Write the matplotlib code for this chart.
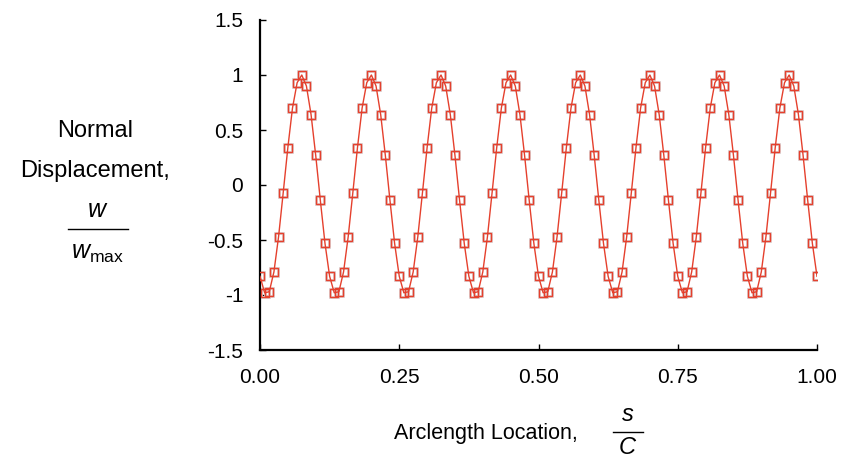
import matplotlib
matplotlib.use("Agg")
import matplotlib.pyplot as plt
import numpy as np
from matplotlib.lines import Line2D

plt.rcParams["font.family"] = ["Liberation Sans", "DejaVu Sans"]
plt.rcParams["mathtext.fontset"] = "custom"
plt.rcParams["mathtext.rm"] = "Liberation Sans"
plt.rcParams["mathtext.it"] = "Liberation Sans:italic"

# ---------------------------------------------------------------------------
# Data: 121 evenly spaced arclength samples
# ---------------------------------------------------------------------------
arclength = np.linspace(0.0, 1.0, 121)

displacement = [
    -0.83, -0.98, -0.97, -0.79, -0.47, -0.07, 0.34, 0.70, 0.93, 1.00, 0.90, 0.64, 0.27, -0.14, -0.53,
    -0.83, -0.98, -0.97, -0.79, -0.47, -0.07, 0.34, 0.70, 0.93, 1.00, 0.90, 0.64, 0.27, -0.14, -0.53,
    -0.83, -0.98, -0.97, -0.79, -0.47, -0.07, 0.34, 0.70, 0.93, 1.00, 0.90, 0.64, 0.27, -0.14, -0.53,
    -0.83, -0.98, -0.97, -0.79, -0.47, -0.07, 0.34, 0.70, 0.93, 1.00, 0.90, 0.64, 0.27, -0.14, -0.53,
    -0.83, -0.98, -0.97, -0.79, -0.47, -0.07, 0.34, 0.70, 0.93, 1.00, 0.90, 0.64, 0.27, -0.14, -0.53,
    -0.83, -0.98, -0.97, -0.79, -0.47, -0.07, 0.34, 0.70, 0.93, 1.00, 0.90, 0.64, 0.27, -0.14, -0.53,
    -0.83, -0.98, -0.97, -0.79, -0.47, -0.07, 0.34, 0.70, 0.93, 1.00, 0.90, 0.64, 0.27, -0.14, -0.53,
    -0.83, -0.98, -0.97, -0.79, -0.47, -0.07, 0.34, 0.70, 0.93, 1.00, 0.90, 0.64, 0.27, -0.14, -0.53,
    -0.83,
]

x_ticks = [0.0, 0.25, 0.5, 0.75, 1.0]
x_tick_labels = ["0.00", "0.25", "0.50", "0.75", "1.00"]
y_ticks = [-1.5, -1.0, -0.5, 0.0, 0.5, 1.0, 1.5]
y_tick_labels = ["-1.5", "-1", "-0.5", "0", "0.5", "1", "1.5"]

RED = "#e5402d"
HALO = "#dccccc"

W, H = 842, 465
fig = plt.figure(figsize=(W / 100, H / 100), dpi=100)
ax = fig.add_axes([260 / W, 1 - 350 / H, (817 - 260) / W, (350 - 20) / H])

# soft grey halo under each marker, red line + red open squares on top
ax.plot(arclength, displacement, ls="none", marker="s", ms=5.8,
        mfc="none", mec=HALO, mew=2.0, zorder=2)
ax.plot(arclength, displacement, color=RED, lw=1.0, marker="s", ms=5.8,
        mfc="none", mec=RED, mew=1.0, zorder=3)

ax.set_xlim(0, 1)
ax.set_ylim(-1.5, 1.5)
ax.set_xticks(x_ticks, x_tick_labels)
ax.set_yticks(y_ticks, y_tick_labels)
ax.tick_params(direction="in", length=4.5, width=1.0, labelsize=15, color="black")
ax.tick_params(axis="y", pad=12)
ax.tick_params(axis="x", pad=13)
for side in ("top", "right"):
    ax.spines[side].set_visible(False)
for side in ("left", "bottom"):
    ax.spines[side].set_linewidth(1.6)


def fx(px):
    return px / W


def fy(py):
    return 1 - py / H


# ── y label (stacked text + hand-built fraction) ────────────────────────────
fig.text(fx(95), fy(131), "Normal", fontsize=17, ha="center", va="center")
fig.text(fx(95), fy(171), "Displacement,", fontsize=17, ha="center", va="center")
fig.text(fx(98), fy(210), "$w$", fontsize=18, ha="center", va="center")
fig.add_artist(Line2D([fx(68), fx(128)], [fy(229), fy(229)], color="black", lw=1.0,
                      transform=fig.transFigure))
fig.text(fx(97), fy(253), r"$w_{\mathrm{max}}$", fontsize=18, ha="center", va="center")

# ── x label ─────────────────────────────────────────────────────────────────
fig.text(fx(486), fy(433), "Arclength Location,", fontsize=15.5, ha="center", va="center")
fig.text(fx(628), fy(415), "$s$", fontsize=17, ha="center", va="center")
fig.add_artist(Line2D([fx(613), fx(643)], [fy(432), fy(432)], color="black", lw=1.0,
                      transform=fig.transFigure))
fig.text(fx(628), fy(448), "$C$", fontsize=17, ha="center", va="center")

fig.savefig("out.png", dpi=100)
